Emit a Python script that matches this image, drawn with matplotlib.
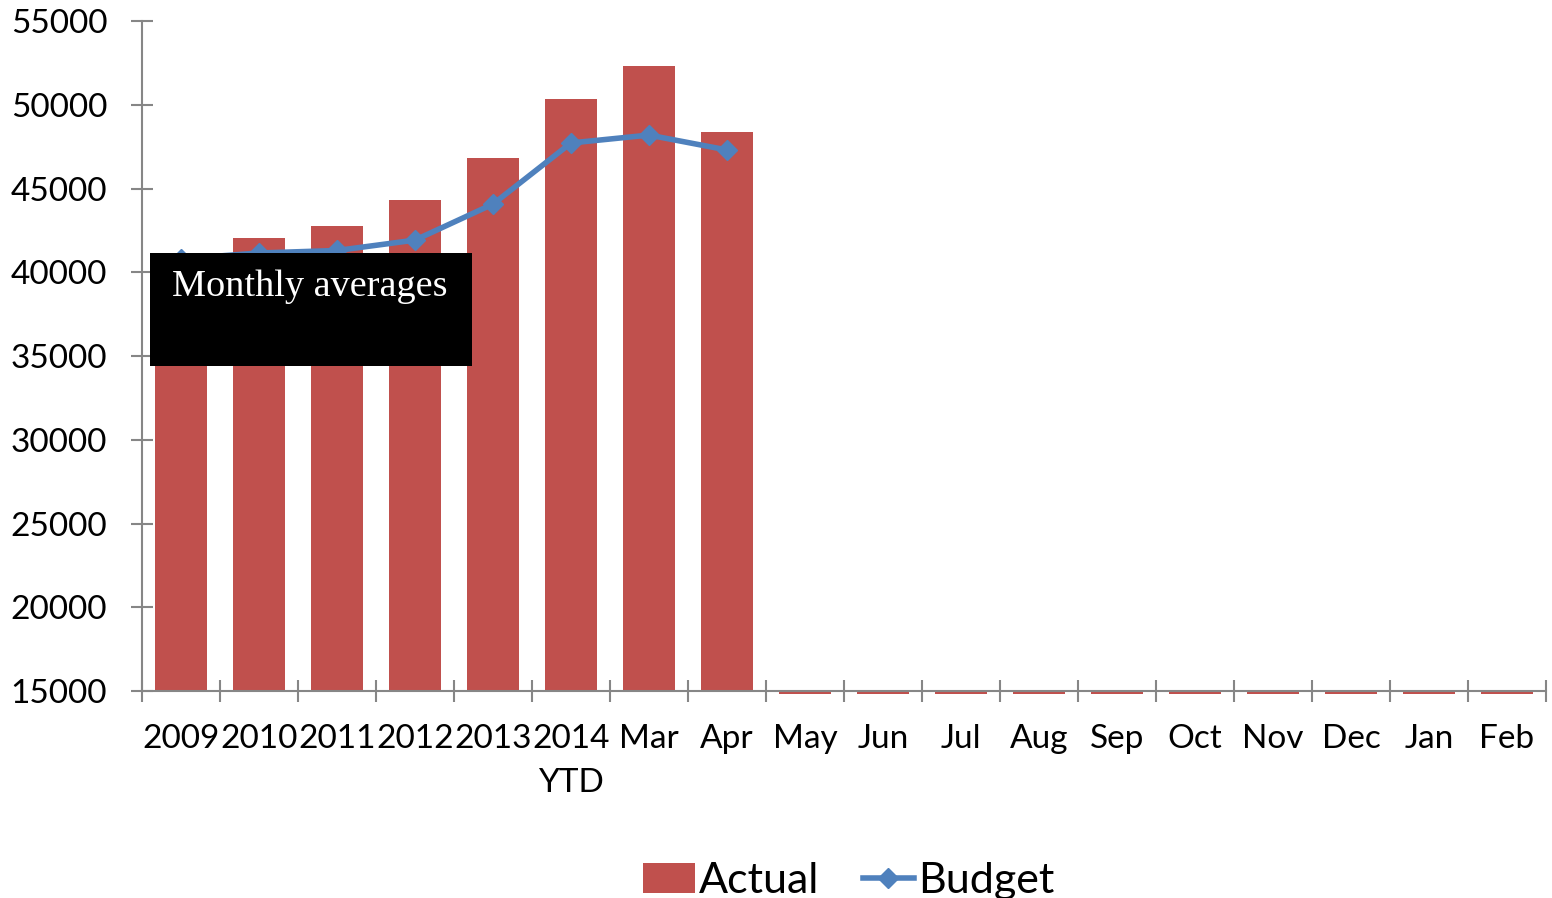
import numpy as np
import matplotlib.pyplot as plt
from matplotlib.patches import Patch, Rectangle
from matplotlib.lines import Line2D

categories = ['2009', '2010', '2011', '2012', '2013', '2014\nYTD', 'Mar', 'Apr', 'May', 'Jun',
              'Jul', 'Aug', 'Sep', 'Oct', 'Nov', 'Dec', 'Jan', 'Feb']
actual = [40500, 42050, 42760, 44310, 46820, 50340, 52310, 48370, 0, 0, 0, 0, 0, 0, 0, 0, 0, 0]
budget = [40800, 41150, 41300, 41920, 44070, 47720, 48190, 47300]

red = '#C0504D'
blue = '#4F81BD'
grey = '#868686'
base = 15000

plt.rcParams['font.family'] = ['Lato', 'DejaVu Sans']

fig = plt.figure(figsize=(15.52, 8.98), dpi=100)
ax = fig.add_axes([0.0915, 0.2305, 0.9046, 0.7461])

x = np.arange(len(categories))
heights = [v - base if v > base else -180 for v in actual]
ax.bar(x, heights, bottom=base, width=0.67, color=red, clip_on=False, zorder=2)
ax.plot(x[:len(budget)], budget, color=blue, lw=4, marker='D', markersize=10, zorder=3)

ax.set_xlim(-0.5, len(categories) - 0.5)
ax.set_ylim(15000, 55000)
ax.set_yticks(np.arange(15000, 55001, 5000))

for s in ['top', 'right']:
    ax.spines[s].set_visible(False)
for s in ['left', 'bottom']:
    ax.spines[s].set_color(grey)
    ax.spines[s].set_linewidth(1.5)

ax.set_xticks(x)
ax.set_xticklabels(categories, linespacing=1.55)
ax.set_xticks(np.arange(-0.5, len(categories)), minor=True)
ax.tick_params(axis='x', which='major', length=0, pad=24, labelsize=24)
ax.tick_params(axis='x', which='minor', direction='inout', length=16, width=1.5, color=grey)
ax.tick_params(axis='y', direction='inout', length=16, width=1.5, color=grey, pad=17, labelsize=24)

# label box
fig.patches.append(Rectangle((0.0966, 0.5924), 0.2075, 0.1258, transform=fig.transFigure,
                             facecolor='black', edgecolor='none', zorder=5))
fig.text(0.1108, 0.6804, 'Monthly averages', color='white', fontsize=27.5,
         family=['Liberation Serif', 'DejaVu Serif'], va='center', ha='left', zorder=6)

handles = [Patch(facecolor=red, label='Actual'),
           Line2D([], [], color=blue, lw=4, marker='D', markersize=10, label='Budget')]
fig.legend(handles=handles, loc='lower center', bbox_to_anchor=(0.547, -0.045), ncol=2,
           frameon=False, fontsize=31, handlelength=1.2, handletextpad=0.1, columnspacing=1.0)

fig.savefig('out.png', dpi=100)
